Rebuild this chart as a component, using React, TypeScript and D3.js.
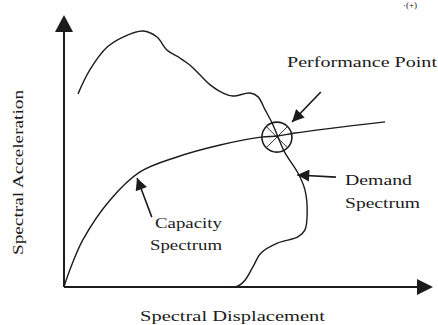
import React from "react";
import * as d3 from "d3";

// values, in arbitrary units (0-100 on each axis)
const demandX = [3.8, 7.0, 11.7, 16.0, 21.4, 25.2, 27.9, 31.4, 34.1, 36.9, 39.6, 43.1, 45.8, 50.4, 52.6, 54.5, 56.4, 58.0, 59.9, 63.4, 65.3, 65.9, 65.3, 63.4, 58.0, 53.4, 51.2, 49.1, 47.2, 44.4];
const demandY = [71.0, 79.8, 88.2, 91.9, 94.1, 91.9, 87.1, 84.2, 81.6, 77.9, 74.3, 71.3, 70.2, 71.3, 69.9, 65.1, 60.3, 55.1, 49.3, 41.9, 35.7, 27.2, 21.0, 18.4, 16.2, 12.5, 7.4, 2.6, 0.4, 0];

const capacityX = [0, 1.6, 5.1, 12.5, 20.6, 30.6, 42.3, 53.4, 58.0, 62.6, 87.0];
const capacityY = [0, 6.3, 17.3, 32.0, 42.3, 47.8, 52.2, 55.1, 55.5, 56.6, 60.7];

const perfPoint = [57.7, 55.1];

// annotation arrows: [tailX, tailY, tipX, tipY]
const arrows = [
  [69.6, 71.7, 61.8, 60.7],
  [73.7, 40.4, 63.2, 41.2],
  [23.8, 25.7, 19.8, 40.1],
];

const W = 438;
const H = 325;

export default function App() {
  const x = d3.scaleLinear().domain([0, 100]).range([64, 433]);
  const y = d3.scaleLinear().domain([0, 100]).range([287, 15]);

  const curve = (xs: number[], ys: number[]) =>
    d3
      .line<[number, number]>()
      .x((d) => x(d[0]))
      .y((d) => y(d[1]))
      .curve(d3.curveCatmullRom.alpha(0.5))(xs.map((v, i) => [v, ys[i]]));

  const cx = x(perfPoint[0]);
  const cy = y(perfPoint[1]);
  const r = 15;
  const k = r * Math.SQRT1_2;
  const ink = "#1c1c1c";
  const font = "'Liberation Serif', 'Times New Roman', serif";

  return (
    <div style={{ position: "absolute", left: 0, top: 0 }}>
      <svg width={W} height={H} style={{ display: "block", background: "#fff" }}>
        <defs>
          <marker id="head" viewBox="0 0 10 10" refX="10" refY="5" markerWidth="14" markerHeight="12" markerUnits="userSpaceOnUse" orient="auto">
            <path d="M0,0 L10,5 L0,10 z" fill={ink} />
          </marker>
        </defs>

        {/* axes */}
        <line x1={x(0)} y1={y(0)} x2={x(0)} y2={y(100) + 14} stroke={ink} strokeWidth={2} />
        <path d={`M${x(0)},${y(100)} L${x(0) - 9},${y(100) + 17} L${x(0) + 9},${y(100) + 17} z`} fill={ink} />
        <line x1={x(0)} y1={y(0)} x2={x(100) - 13} y2={y(0)} stroke={ink} strokeWidth={2} />
        <path d={`M${x(100)},${y(0)} L${x(100) - 16},${y(0) - 8} L${x(100) - 16},${y(0) + 8} z`} fill={ink} />

        {/* curves */}
        <path d={curve(demandX, demandY) || ""} fill="none" stroke={ink} strokeWidth={1.4} />
        <path d={curve(capacityX, capacityY) || ""} fill="none" stroke={ink} strokeWidth={1.4} />

        {/* performance point */}
        <circle cx={cx} cy={cy} r={r} fill="none" stroke={ink} strokeWidth={1.6} />
        <line x1={cx - k} y1={cy - k} x2={cx + k} y2={cy + k} stroke={ink} strokeWidth={0.9} />
        <line x1={cx - k} y1={cy + k} x2={cx + k} y2={cy - k} stroke={ink} strokeWidth={0.9} />

        {/* arrows */}
        {arrows.map((a, i) => (
          <line key={i} x1={x(a[0])} y1={y(a[1])} x2={x(a[2])} y2={y(a[3])} stroke={ink} strokeWidth={1.6} markerEnd="url(#head)" />
        ))}

        {/* labels */}
        <g fontFamily={font} fill={ink} fontSize={15}>
          <text x={287} y={67} textLength={150} lengthAdjust="spacingAndGlyphs">Performance  Point</text>
          <text x={345} y={185} textLength={67} lengthAdjust="spacingAndGlyphs">Demand</text>
          <text x={345} y={208} textLength={75} lengthAdjust="spacingAndGlyphs">Spectrum</text>
          <text x={155} y={228} textLength={67} lengthAdjust="spacingAndGlyphs">Capacity</text>
          <text x={150} y={250} textLength={72} lengthAdjust="spacingAndGlyphs">Spectrum</text>
          <text x={140} y={321} textLength={185} lengthAdjust="spacingAndGlyphs">Spectral Displacement</text>
          <text transform="translate(23,255) rotate(-90)" textLength={165} lengthAdjust="spacingAndGlyphs">Spectral  Acceleration</text>
          <text x={403} y={8} fontSize={9}>·(+)</text>
        </g>
      </svg>
    </div>
  );
}
